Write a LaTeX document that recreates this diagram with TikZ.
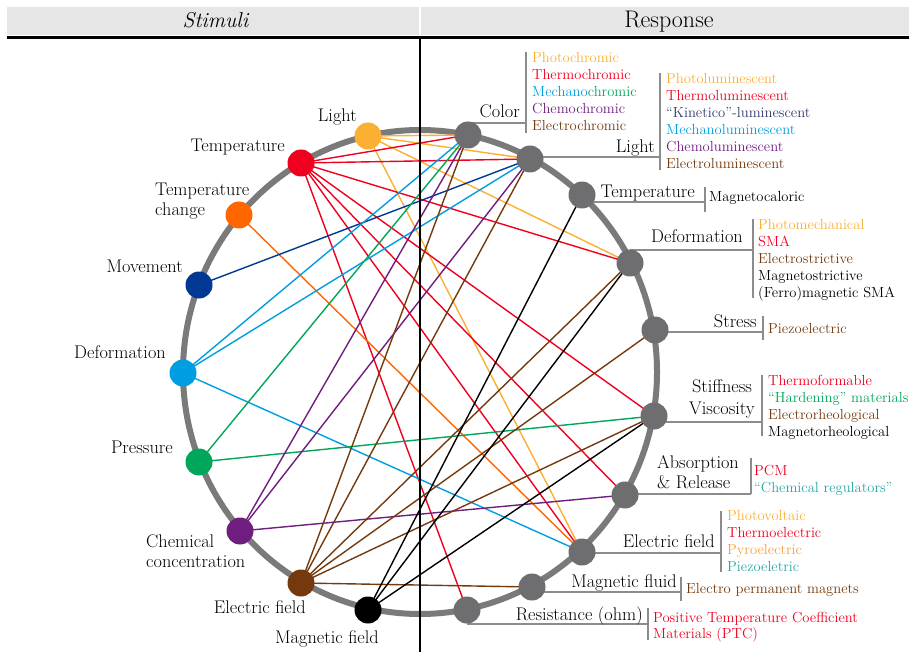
\documentclass[tikz,border=0pt]{standalone}
\usetikzlibrary{backgrounds}
\definecolor{lightC}{RGB}{251,176,52}
\definecolor{tempC}{RGB}{240,0,30}
\definecolor{tchC}{RGB}{255,102,0}
\definecolor{moveC}{RGB}{0,56,147}
\definecolor{defC}{RGB}{0,158,224}
\definecolor{presC}{RGB}{0,166,90}
\definecolor{chemC}{RGB}{111,29,127}
\definecolor{elecC}{RGB}{116,58,13}
\definecolor{magC}{RGB}{0,0,0}
\definecolor{dotgray}{RGB}{110,110,112}
\definecolor{ringgray}{RGB}{122,122,122}
\definecolor{leadgray}{RGB}{140,140,140}
\definecolor{headgray}{RGB}{230,230,230}
\definecolor{kinC}{RGB}{46,58,110}
\definecolor{tealC}{RGB}{38,166,164}
\definecolor{pyroC}{RGB}{248,160,60}
\begin{document}
\begin{tikzpicture}[x=1pt,y=-1pt,
  sdot/.style={circle, inner sep=0pt, minimum size=27pt, fill=#1},
  rdot/.style={circle, inner sep=0pt, minimum size=27pt, fill=dotgray},
  lbl/.style={font=\fontsize{18.3}{20}\selectfont, inner sep=0pt},
  itm/.style={font=\fontsize{14.6}{17}\selectfont, inner sep=0pt, align=left, anchor=base west},
  hdr/.style={inner sep=0pt, anchor=base},
  lead/.style={draw=leadgray, line width=1.5pt},
  link/.style={line width=1.4pt},
  ring/.style={draw=ringgray, line width=6pt}]
\useasboundingbox (0,0) rectangle (909,652);
% header
\fill[headgray] (7,7) rectangle (909,35);
\draw[white, line width=2pt] (420,7) -- (420,35);
\draw[black, line width=3pt] (7,37.5) -- (909,37.5);
\node[hdr, font=\fontsize{21.5}{24}\selectfont] (h-stim) at (216,28) {\textit{Stimuli}};
\node[hdr, font=\fontsize{24}{26}\selectfont] (h-resp) at (669,28) {Response};
% stimulus dots
\node[sdot=lightC] (s-light) at (368,136) {};
\node[sdot=tempC]  (s-temp)  at (301,163) {};
\node[sdot=tchC]   (s-tch)   at (239,215) {};
\node[sdot=moveC]  (s-move)  at (199,285) {};
\node[sdot=defC]   (s-def)   at (183,373) {};
\node[sdot=presC]  (s-press) at (199,462) {};
\node[sdot=chemC]  (s-chem)  at (240,531) {};
\node[sdot=elecC]  (s-elec)  at (301,583) {};
\node[sdot=magC]   (s-mag)   at (368,610) {};
% response dots
\node[rdot] (r-color)  at (468,135) {};
\node[rdot] (r-light)  at (530,159) {};
\node[rdot] (r-temp)   at (582,195) {};
\node[rdot] (r-def)    at (630,263) {};
\node[rdot] (r-stress) at (655,330) {};
\node[rdot] (r-stiff)  at (654,416) {};
\node[rdot] (r-abs)    at (625,495) {};
\node[rdot] (r-efield) at (582,552) {};
\node[rdot] (r-mfluid) at (532,587) {};
\node[rdot] (r-res)    at (467,610) {};
% stimulus labels (multi-line nodes: base = last line)
\node[lbl, anchor=base east] (l-light) at (357,122) {Light};
\node[lbl, anchor=base east] (l-temp) at (285,152) {Temperature};
\node[lbl, anchor=base west, align=left] (l-tch) at (155,215) {Temperature\\change};
\node[lbl, anchor=base east] (l-move) at (183,272) {Movement};
\node[lbl, anchor=base east] (l-def) at (166,358) {Deformation};
\node[lbl, anchor=base east] (l-press) at (173,453) {Pressure};
\node[lbl, anchor=base west, align=left] (l-chem) at (146,567) {Chemical\\concentration};
\node[lbl, anchor=base east] (l-elec) at (306,613) {Electric field};
\node[lbl, anchor=base east] (l-mag) at (379,643) {Magnetic field};
% response labels
\node[lbl, anchor=base east] (t-color) at (520,118) {Color};
\node[lbl, anchor=base east] (t-light) at (655,153) {Light};
\node[lbl, anchor=base east] (t-temp) at (695,198) {Temperature};
\node[lbl, anchor=base east] (t-def) at (743,243) {Deformation};
\node[lbl, anchor=base east] (t-stress) at (757,327) {Stress};
\node[lbl, anchor=base, align=center, font=\fontsize{18.3}{22}\selectfont] (t-stiff) at (722,414) {Stiffness\\Viscosity};
\node[lbl, anchor=base west, align=left] (t-abs) at (657,488) {Absorption\\\& Release};
\node[lbl, anchor=base east] (t-efield) at (715,547) {Electric field};
\node[lbl, anchor=base east] (t-mfluid) at (677,587) {Magnetic fluid};
\node[lbl, anchor=base east] (t-res) at (643,620) {Resistance (ohm)};
% item lists (anchored at last baseline)
\node[itm] (i-color) at (532,131) {{\color{lightC}Photochromic}\\{\color{tempC}Thermochromic}\\{\color{defC}Mechano}{\color{presC}chromic}\\{\color{chemC}Chemochromic}\\{\color{elecC}Electrochromic}};
\node[itm] (i-light) at (666,169) {{\color{lightC}Photoluminescent}\\{\color{tempC}Thermoluminescent}\\{\color{kinC}\textquotedblleft Kinetico\textquotedblright-luminescent}\\{\color{defC}Mechanoluminescent}\\{\color{chemC}Chemoluminescent}\\{\color{elecC}Electroluminescent}};
\node[itm] (i-temp) at (709,202) {Magnetocaloric};
\node[itm] (i-def) at (758,297) {{\color{lightC}Photomechanical}\\{\color{tempC}SMA}\\{\color{elecC}Electrostrictive}\\Magnetostrictive\\(Ferro)magnetic SMA};
\node[itm] (i-stress) at (768,333) {{\color{elecC}Piezoelectric}};
\node[itm] (i-stiff) at (768,436) {{\color{tempC}Thermoformable}\\{\color{presC}\textquotedblleft Hardening\textquotedblright\ materials}\\{\color{elecC}Electrorheological}\\Magnetorheological};
\node[itm] (i-abs) at (754,492) {{\color{tempC}PCM}\\{\color{tealC}\textquotedblleft Chemical regulators\textquotedblright}};
\node[itm] (i-efield) at (727,571) {{\color{lightC}Photovoltaic}\\{\color{tempC}Thermoelectric}\\{\color{pyroC}Pyroelectric}\\{\color{tealC}Piezoeletric}};
\node[itm] (i-mfluid) at (686,593) {{\color{elecC}Electro permanent magnets}};
\node[itm, font=\fontsize{14.6}{16}\selectfont] (i-res) at (653,638) {{\color{tempC}Positive Temperature Coefficient}\\{\color{tempC}Materials (PTC)}};
% background: ring, leaders, links
\begin{scope}[on background layer]
  \draw[ring] (420,372) ellipse [x radius=237, y radius=242];
  \draw[lead] (r-color.center) ++(0,-12) -- (526,123);
  \draw[lead] (526,52) -- (526,133);
  \draw[lead] (r-light.center) ++(0,-2) -- (660,157);
  \draw[lead] (660,73) -- (660,170);
  \draw[lead] (r-temp.center) ++(0,7) -- (705,202);
  \draw[lead] (705,187) -- (705,212);
  \draw[lead] (r-def.center) ++(0,-13) -- (753,250);
  \draw[lead] (753,219) -- (753,298);
  \draw[lead] (r-stress.center) ++(0,2) -- (763,332);
  \draw[lead] (763,316) -- (763,340);
  \draw[lead] (r-stiff.center) ++(0,6) -- (762,422);
  \draw[lead] (762,375) -- (762,436);
  \draw[lead] (r-abs.center) ++(0,-1) -- (751,494);
  \draw[lead] (751,458) -- (751,494);
  \draw[lead] (r-efield.center) ++(0,1) -- (721,553);
  \draw[lead] (721,511) -- (721,572);
  \draw[lead] (r-mfluid.center) ++(0,5) -- (681,592);
  \draw[lead] (681,577) -- (681,601);
  \draw[lead] (r-res.center) ++(0,14) -- (648,624);
  \draw[lead] (648,608) -- (648,640);
  \foreach \s/\c/\tl in {
      light/lightC/{color,light,def,efield},
      temp/tempC/{color,light,def,stiff,abs,efield,res},
      tch/tchC/{efield},
      move/moveC/{light},
      def/defC/{color,light,efield},
      press/presC/{color,stiff},
      chem/chemC/{color,light,abs},
      elec/elecC/{color,light,def,stress,stiff,mfluid},
      mag/magC/{temp,def,stiff}} {
    \foreach \t in \tl {
      \draw[link, draw=\c] (s-\s.center) -- (r-\t.center);
    }
  }
\end{scope}
% central divider
\draw[black, line width=2.5pt] (420,37) -- (420,652);
\end{tikzpicture}
\end{document}
